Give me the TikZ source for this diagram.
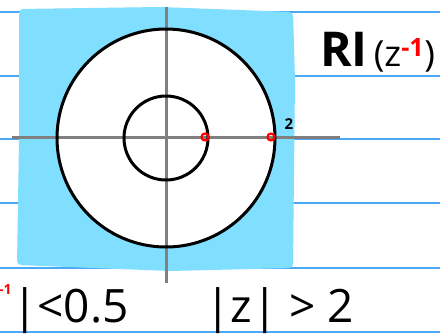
\documentclass[tikz,border=0pt]{standalone}
\usepackage{fontspec}
\setmainfont{Open Sans}
\definecolor{skyshade}{HTML}{80DEFF}
\definecolor{ruling}{HTML}{4AA8F5}
\definecolor{axisgray}{HTML}{808080}
\begin{document}
\begin{tikzpicture}[x=1pt,y=-1pt,
  ruleline/.style={draw=ruling,line width=1.2pt},
  axisline/.style={draw=axisgray,line width=3pt},
  ring/.style={draw=black,line width=3pt},
  polemark/.style={draw=red,line width=2.2pt,circle,inner sep=0pt,minimum size=7pt},
  hand/.style={inner sep=0pt,anchor=base west}]
\useasboundingbox (0,0) rectangle (440,335);
\fill[white] (0,0) rectangle (440,335);
% ruled lines
\foreach \y in {12,76,139,203,268,332}
  \draw[ruleline] (0,\y) -- (440,\y);
% shaded region
\fill[skyshade,rounded corners=4pt] (19,9) -- (160,7) -- (293,12) -- (295,80) -- (293,268) -- (170,271) -- (17,265) -- (19,140) -- cycle;
% white inside big circle
\coordinate (O) at (166,138);
\fill[white] (O) circle (109);
% axes
\coordinate (xl) at (12,137);
\coordinate (xr) at (340,137);
\coordinate (yt) at (166,7);
\coordinate (yb) at (166,283);
\draw[axisline] (xl) -- (xr);
\draw[axisline] (yt) -- (yb);
% circles
\draw[ring] (O) circle (109);
\draw[ring] (O) circle (42);
% poles
\node[polemark] (p1) at (205,137) {};
\node[polemark] (p2) at (271,137) {};
\node[font=\fontsize{15}{15}\selectfont\bfseries,inner sep=0pt] (two) at (289,124) {2};
% title
\node[hand] (title) at (320,66) {{\fontsize{48}{48}\selectfont\bfseries RI}{\fontsize{36}{36}\selectfont\,(z\textsuperscript{\textcolor{red}{\bfseries -1}})}};
% bottom texts
\node[hand,text=red,font=\fontsize{14}{14}\selectfont\bfseries] (m1) at (-1,294) {-1};
\node[hand,font=\fontsize{46}{46}\selectfont] (lt) at (12,322) {|<0.5};
\node[hand,font=\fontsize{46}{46}\selectfont] (gt) at (205,322) {|z| > 2};
\end{tikzpicture}
\end{document}
